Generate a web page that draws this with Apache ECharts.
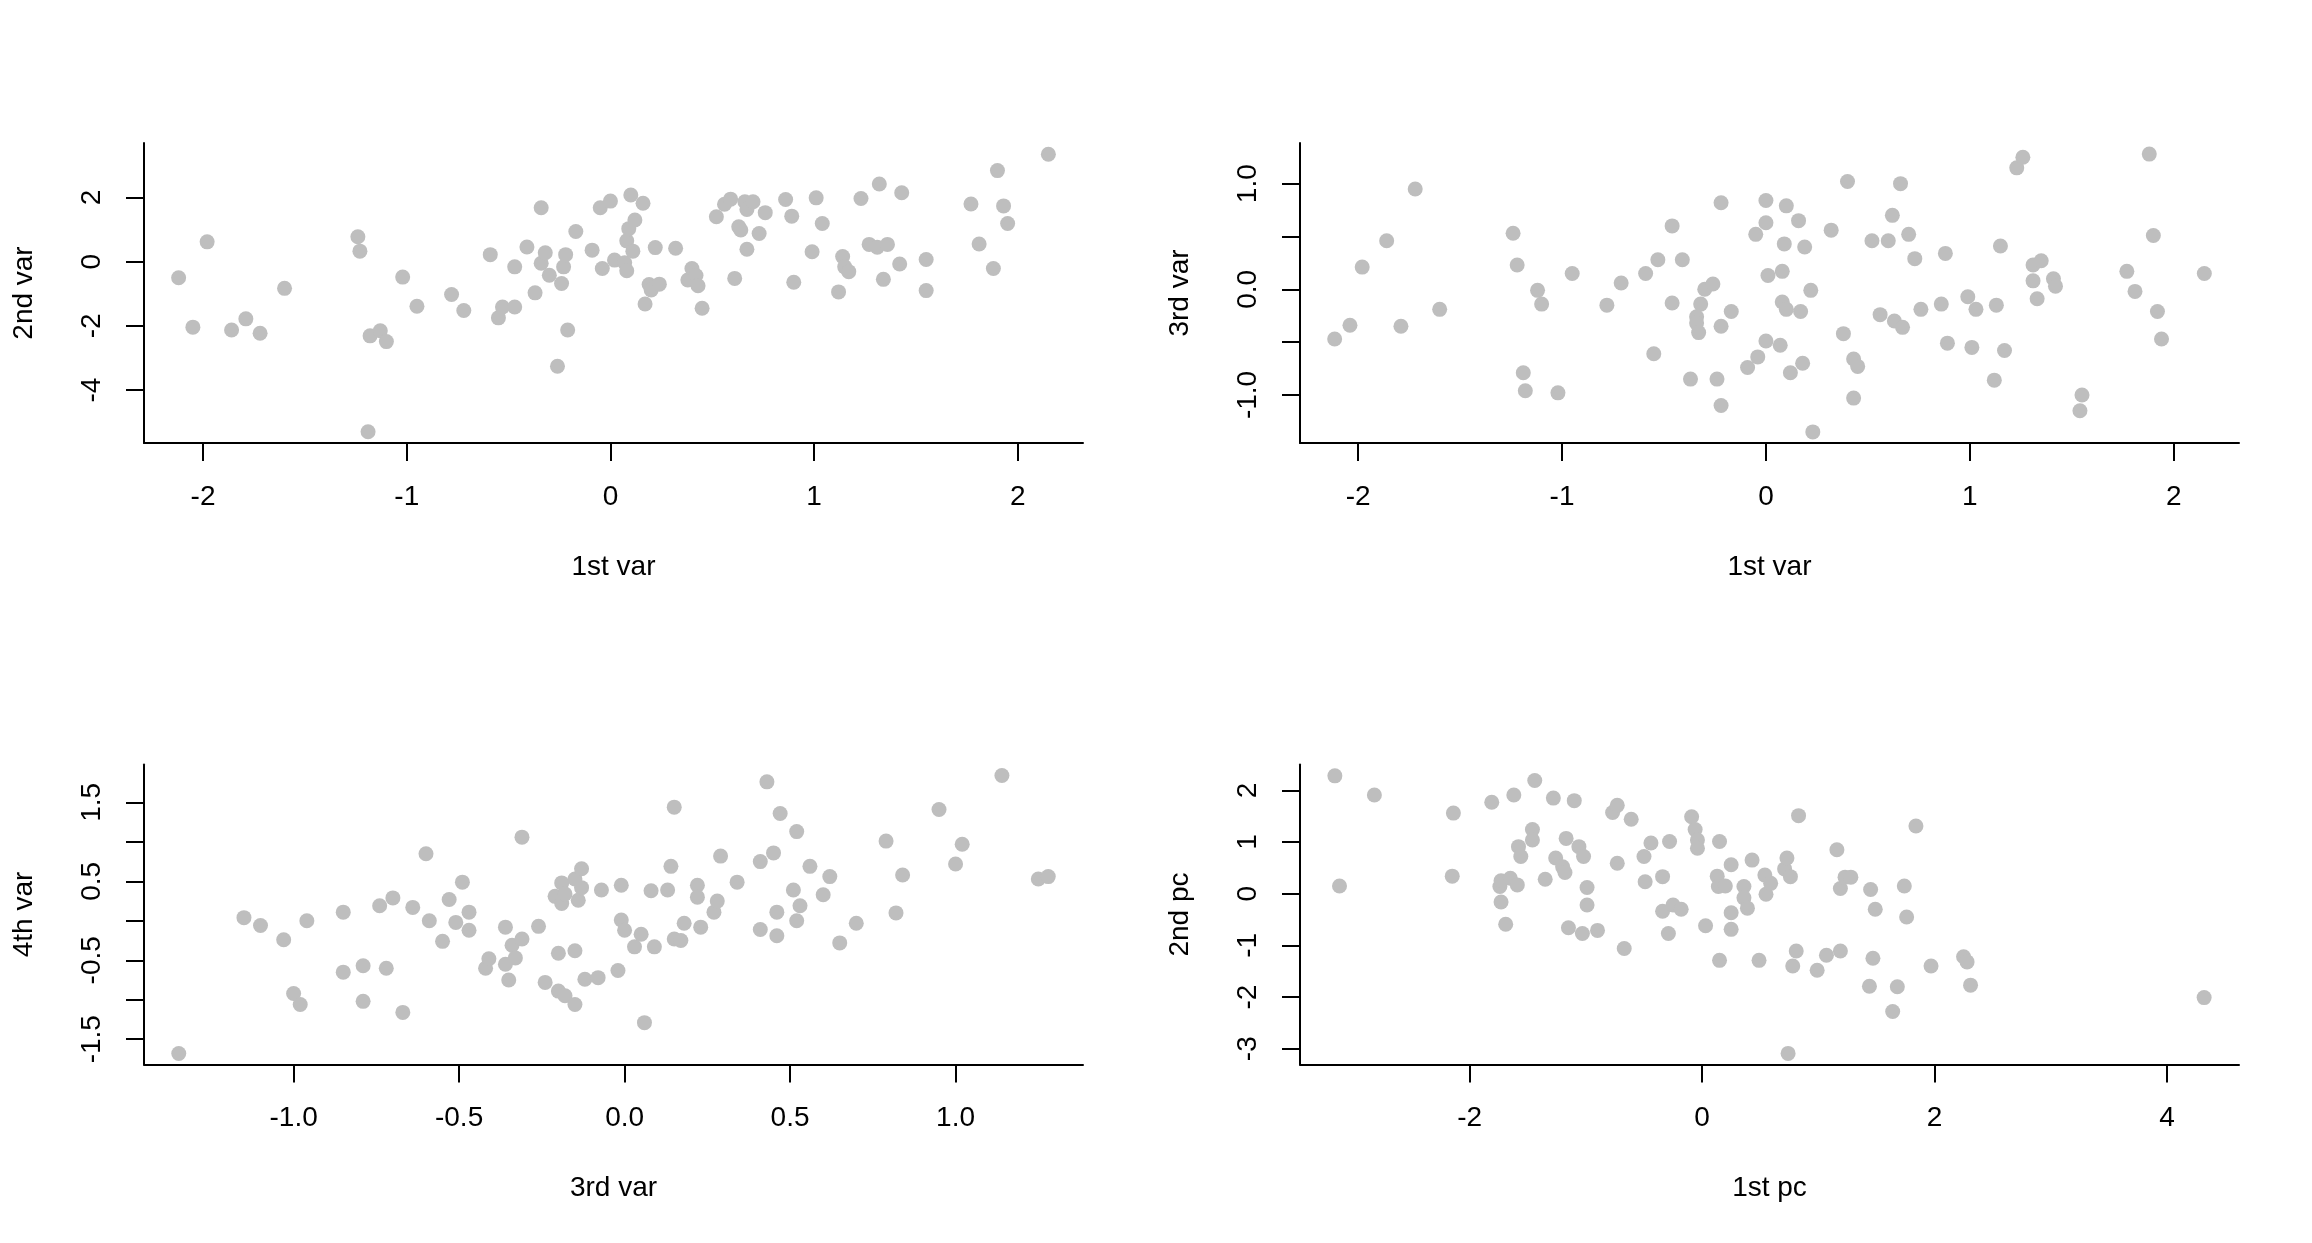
<!DOCTYPE html>
<html>
<head>
    <meta charset="utf-8">
    <title>var / pc scatter</title>
    <script src="https://cdn.jsdelivr.net/npm/echarts@6.0.0/dist/echarts.min.js"></script>
    <style>
        html, body { margin: 0; padding: 0; background: #ffffff; }
        #chart { width: 2312px; height: 1243px; }
    </style>
</head>
<body>
<div id="chart"></div>
<script>
    // 1st var vs 2nd var
    var var1Var2 = [
        [-2.12,-0.50],[-2.05,-2.04],[-1.98,0.62],[-1.86,-2.13],[-1.79,-1.78],[-1.72,-2.23],[-1.60,-0.83],
        [-1.24,0.78],[-1.23,0.33],[-1.19,-5.30],[-1.18,-2.31],[-1.13,-2.15],[-1.10,-2.49],[-1.02,-0.48],
        [-0.95,-1.39],[-0.78,-1.02],[-0.72,-1.52],[-0.59,0.22],[-0.55,-1.75],[-0.53,-1.41],[-0.47,-1.41],
        [-0.47,-0.16],[-0.41,0.46],[-0.37,-0.97],[-0.34,1.68],[-0.34,-0.05],[-0.32,0.28],[-0.30,-0.42],
        [-0.26,-3.26],[-0.24,-0.68],[-0.23,-0.16],[-0.22,0.22],[-0.21,-2.13],[-0.17,0.94],[-0.09,0.36],
        [-0.05,1.68],[-0.04,-0.21],[0.00,1.89],[0.02,0.05],[0.07,-0.03],[0.08,-0.28],[0.08,0.65],
        [0.09,1.03],[0.10,2.08],[0.11,0.33],[0.12,1.30],[0.16,1.82],[0.17,-1.32],[0.19,-0.71],
        [0.20,-0.88],[0.22,0.44],[0.24,-0.70],[0.32,0.42],[0.38,-0.57],[0.40,-0.21],[0.42,-0.43],
        [0.43,-0.75],[0.45,-1.45],[0.52,1.40],[0.56,1.79],[0.59,1.95],[0.61,-0.52],[0.63,1.09],
        [0.64,0.99],[0.66,1.87],[0.67,1.63],[0.67,0.39],[0.70,1.87],[0.73,0.88],[0.76,1.53],
        [0.86,1.94],[0.89,1.42],[0.90,-0.64],[0.99,0.31],[1.01,1.99],[1.04,1.19],[1.12,-0.94],
        [1.14,0.16],[1.15,-0.16],[1.17,-0.31],[1.23,1.97],[1.27,0.54],[1.31,0.45],[1.32,2.42],
        [1.34,-0.55],[1.36,0.54],[1.42,-0.07],[1.43,2.15],[1.55,0.07],[1.55,-0.90],[1.77,1.80],
        [1.81,0.55],[1.88,-0.21],[1.90,2.84],[1.93,1.74],[1.95,1.19],[2.15,3.35]
    ];

    // 1st var vs 3rd var
    var var1Var3 = [
        [-2.115,-0.47],[-2.04,-0.34],[-1.98,0.21],[-1.86,0.46],[-1.79,-0.35],[-1.72,0.95],[-1.60,-0.19],
        [-1.24,0.53],[-1.22,0.23],[-1.19,-0.79],[-1.18,-0.96],[-1.12,-0.01],[-1.10,-0.14],[-1.02,-0.98],
        [-0.95,0.15],[-0.78,-0.15],[-0.71,0.06],[-0.59,0.15],[-0.55,-0.61],[-0.53,0.28],[-0.46,0.60],
        [-0.46,-0.13],[-0.41,0.28],[-0.37,-0.85],[-0.34,-0.26],[-0.34,-0.32],[-0.33,-0.41],[-0.32,-0.14],
        [-0.30,0.00],[-0.26,0.05],[-0.24,-0.85],[-0.22,-1.10],[-0.22,-0.35],[-0.22,0.82],[-0.17,-0.21],
        [-0.09,-0.74],[-0.05,0.52],[-0.04,-0.64],[0.00,0.84],[0.00,0.63],[0.00,-0.49],[0.01,0.13],
        [0.07,-0.53],[0.08,-0.12],[0.08,0.17],[0.09,0.43],[0.10,-0.19],[0.10,0.79],[0.12,-0.79],
        [0.16,0.65],[0.17,-0.21],[0.18,-0.70],[0.19,0.40],[0.22,-0.01],[0.23,-1.35],[0.32,0.56],
        [0.38,-0.42],[0.40,1.02],[0.43,-1.03],[0.43,-0.66],[0.45,-0.73],[0.52,0.46],[0.56,-0.24],
        [0.60,0.46],[0.62,0.70],[0.63,-0.30],[0.66,1.00],[0.67,-0.36],[0.70,0.52],[0.73,0.29],
        [0.76,-0.19],[0.86,-0.14],[0.88,0.34],[0.89,-0.51],[0.99,-0.07],[1.01,-0.55],[1.03,-0.19],
        [1.12,-0.86],[1.13,-0.15],[1.15,0.41],[1.17,-0.58],[1.23,1.15],[1.26,1.25],[1.31,0.23],
        [1.31,0.08],[1.33,-0.09],[1.35,0.27],[1.41,0.10],[1.42,0.03],[1.55,-1.00],[1.54,-1.15],
        [1.77,0.17],[1.81,-0.02],[1.88,1.28],[1.90,0.51],[1.92,-0.21],[1.94,-0.47],[2.15,0.15]
    ];

    // 3rd var vs 4th var
    var var3Var4 = [
        [-1.347,-1.68],[-1.15,0.04],[-1.10,-0.06],[-1.03,-0.24],[-1.00,-0.92],[-0.98,-1.06],[-0.96,0.00],
        [-0.85,0.11],[-0.85,-0.65],[-0.79,-0.57],[-0.79,-1.02],[-0.74,0.19],[-0.72,-0.60],[-0.70,0.29],
        [-0.67,-1.16],[-0.64,0.17],[-0.60,0.85],[-0.59,0.00],[-0.55,-0.26],[-0.53,0.27],[-0.51,-0.02],
        [-0.49,0.49],[-0.47,0.11],[-0.47,-0.12],[-0.42,-0.60],[-0.41,-0.48],[-0.36,-0.55],[-0.36,-0.08],
        [-0.35,-0.75],[-0.34,-0.31],[-0.33,-0.47],[-0.31,-0.23],[-0.31,1.06],[-0.26,-0.07],[-0.24,-0.78],
        [-0.21,0.31],[-0.20,-0.89],[-0.20,-0.41],[-0.19,0.22],[-0.19,0.48],[-0.18,0.34],[-0.18,-0.95],
        [-0.15,-1.06],[-0.15,0.53],[-0.15,-0.38],[-0.14,0.26],[-0.13,0.66],[-0.13,0.42],[-0.12,-0.74],
        [-0.08,-0.72],[-0.07,0.39],[-0.02,-0.63],[-0.01,0.45],[-0.01,0.01],[0.00,-0.12],[0.03,-0.33],
        [0.05,-0.17],[0.06,-1.29],[0.08,0.38],[0.09,-0.33],[0.13,0.39],[0.14,0.69],[0.15,1.44],
        [0.15,-0.23],[0.17,-0.25],[0.18,-0.03],[0.22,0.45],[0.22,0.30],[0.23,-0.08],[0.27,0.11],
        [0.28,0.25],[0.29,0.82],[0.34,0.49],[0.41,-0.11],[0.41,0.75],[0.43,1.76],[0.45,0.86],
        [0.46,-0.19],[0.46,0.11],[0.47,1.36],[0.51,0.39],[0.52,0.00],[0.52,1.13],[0.53,0.19],
        [0.56,0.69],[0.60,0.33],[0.62,0.56],[0.65,-0.28],[0.70,-0.03],[0.79,1.01],[0.82,0.10],
        [0.84,0.58],[0.95,1.41],[1.00,0.72],[1.02,0.97],[1.14,1.84],[1.25,0.53],[1.28,0.56]
    ];

    // 1st pc vs 2nd pc
    var pc1Pc2 = [
        [-3.16,2.28],[-3.12,0.15],[-2.82,1.91],[-2.15,0.34],[-2.14,1.56],[-1.81,1.77],[-1.74,0.14],
        [-1.73,0.25],[-1.73,-0.16],[-1.69,-0.59],[-1.65,0.30],[-1.62,1.91],[-1.59,0.17],[-1.58,0.91],
        [-1.56,0.72],[-1.46,1.24],[-1.46,1.04],[-1.44,2.19],[-1.35,0.28],[-1.28,1.85],[-1.26,0.69],
        [-1.20,0.52],[-1.18,0.41],[-1.17,1.07],[-1.15,-0.66],[-1.10,1.80],[-1.06,0.91],[-1.03,-0.77],
        [-1.02,0.72],[-0.99,-0.22],[-0.99,0.12],[-0.90,-0.71],[-0.77,1.57],[-0.73,1.71],[-0.73,0.59],
        [-0.67,-1.06],[-0.61,1.44],[-0.50,0.72],[-0.49,0.23],[-0.44,0.98],[-0.34,0.33],[-0.34,-0.34],
        [-0.29,-0.77],[-0.28,1.01],[-0.25,-0.22],[-0.18,-0.30],[-0.09,1.49],[-0.06,1.24],[-0.04,1.04],
        [-0.04,0.88],[0.03,-0.62],[0.13,0.34],[0.14,0.14],[0.15,-1.29],[0.15,1.01],[0.20,0.15],
        [0.25,0.56],[0.25,-0.37],[0.25,-0.69],[0.36,0.14],[0.36,-0.08],[0.39,-0.28],[0.43,0.65],
        [0.49,-1.29],[0.54,0.36],[0.55,-0.01],[0.59,0.20],[0.71,0.48],[0.73,0.69],[0.74,-3.09],
        [0.76,0.33],[0.78,-1.40],[0.81,-1.11],[0.83,1.51],[0.99,-1.48],[1.07,-1.19],[1.16,0.85],
        [1.19,-1.11],[1.19,0.10],[1.23,0.32],[1.28,0.32],[1.44,-1.79],[1.45,0.08],[1.47,-1.25],
        [1.49,-0.30],[1.64,-2.28],[1.68,-1.80],[1.74,0.15],[1.76,-0.45],[1.84,1.31],[1.97,-1.40],
        [2.25,-1.22],[2.28,-1.32],[2.31,-1.77],[4.32,-2.01]
    ];

    // tick positions and the labels R kept
    var ticksVar1 = [-2, -1, 0, 1, 2];
    var ticksVar2 = [-4, -2, 0, 2];
    var ticksVar3 = [-1, -0.5, 0, 0.5, 1];
    var labelsVar3 = [-1, 0, 1];
    var ticksVar3x = [-1, -0.5, 0, 0.5, 1];
    var ticksVar4 = [-1.5, -1, -0.5, 0, 0.5, 1, 1.5];
    var labelsVar4 = [-1.5, -0.5, 0.5, 1.5];
    var ticksPc1 = [-2, 0, 2, 4];
    var ticksPc2 = [-3, -2, -1, 0, 1, 2];

    var chart = echarts.init(document.getElementById('chart'));
    var font = '"Liberation Sans", Arial, Helvetica, sans-serif';

    function makeAxis(gridIndex, isY, min, max, ticks, labels, decimals, name) {
        return {
            type: 'value',
            gridIndex: gridIndex,
            min: min,
            max: max,
            name: name,
            nameLocation: 'middle',
            nameGap: isY ? 106 : 110,
            nameRotate: isY ? 90 : 0,
            nameTextStyle: { color: '#000', fontSize: 28, fontFamily: font },
            axisLine: { show: true, onZero: false, lineStyle: { color: '#000', width: 2 } },
            axisTick: { show: true, length: 18, lineStyle: { color: '#000', width: 2 }, customValues: ticks },
            axisLabel: {
                show: true,
                customValues: labels,
                rotate: isY ? 90 : 0,
                margin: isY ? 38 : 40,
                color: '#000',
                fontSize: 28,
                fontFamily: font,
                formatter: function (v) { return Number(v).toFixed(decimals); }
            },
            splitLine: { show: false }
        };
    }

    function scatter(idx, data) {
        return {
            type: 'scatter',
            xAxisIndex: idx,
            yAxisIndex: idx,
            data: data,
            symbol: 'circle',
            symbolSize: 15,
            itemStyle: { color: '#bebebe', opacity: 1 },
            silent: true
        };
    }

    var option = {
        backgroundColor: '#ffffff',
        animation: false,
        grid: [
            { left: 144, top: 143, width: 939, height: 300 },
            { left: 1300, top: 143, width: 939, height: 300 },
            { left: 144, top: 764.5, width: 939, height: 300 },
            { left: 1300, top: 764.5, width: 939, height: 300 }
        ],
        xAxis: [
            makeAxis(0, false, -2.29, 2.32, ticksVar1, ticksVar1, 0, '1st var'),
            makeAxis(1, false, -2.285, 2.32, ticksVar1, ticksVar1, 0, '1st var'),
            makeAxis(2, false, -1.452, 1.385, ticksVar3x, ticksVar3x, 1, '3rd var'),
            makeAxis(3, false, -3.46, 4.62, ticksPc1, ticksPc1, 0, '1st pc')
        ],
        yAxis: [
            makeAxis(0, true, -5.65, 3.70, ticksVar2, ticksVar2, 0, '2nd var'),
            makeAxis(1, true, -1.455, 1.385, ticksVar3, labelsVar3, 1, '3rd var'),
            makeAxis(2, true, -1.82, 1.98, ticksVar4, labelsVar4, 1, '4th var'),
            makeAxis(3, true, -3.305, 2.50, ticksPc2, ticksPc2, 0, '2nd pc')
        ],
        series: [
            scatter(0, var1Var2),
            scatter(1, var1Var3),
            scatter(2, var3Var4),
            scatter(3, pc1Pc2)
        ]
    };
    chart.setOption(option);
</script>
</body>
</html>
